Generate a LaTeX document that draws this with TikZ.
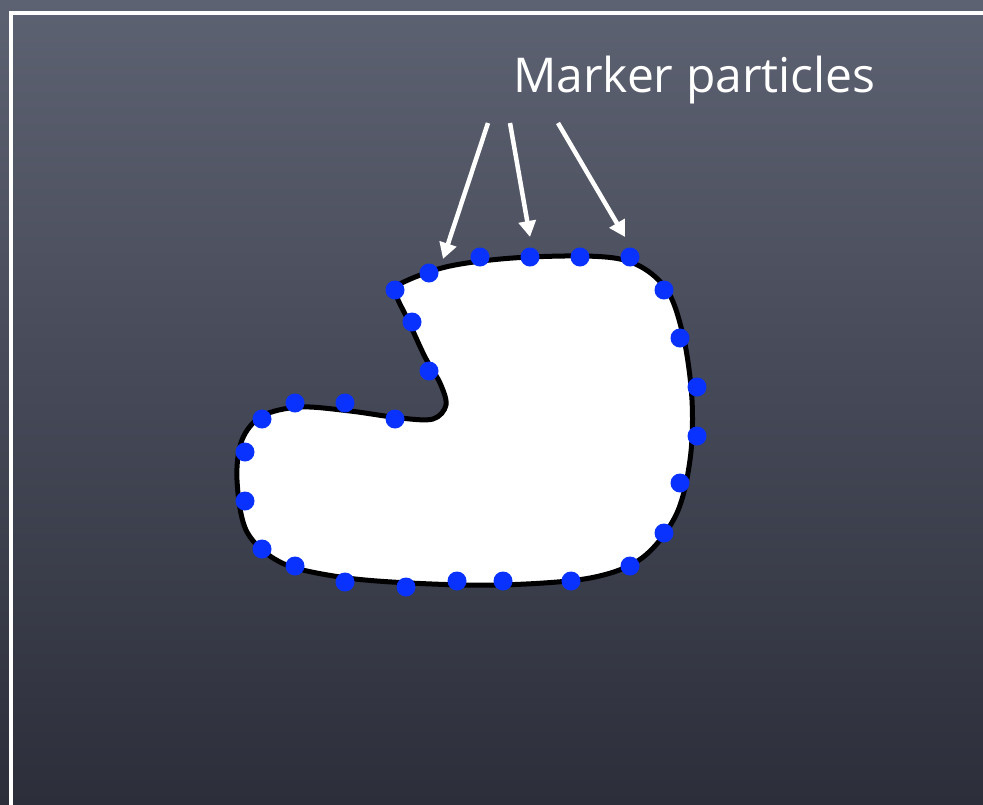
\documentclass[tikz,border=0pt]{standalone}
\usepackage{fontspec}
\setmainfont{Open Sans}
\usetikzlibrary{arrows.meta}
\definecolor{bgtop}{RGB}{93,98,114}
\definecolor{bgbot}{RGB}{44,46,58}
\definecolor{dotblue}{RGB}{10,50,255}
\tikzset{
  pdot/.style={circle,fill=dotblue,inner sep=0pt,minimum size=19pt},
  pointer/.style={draw=white,line width=4.5pt,-{Triangle[length=16pt,width=17pt]}},
  blob/.style={draw=black,fill=white,line width=5pt},
  frameline/.style={draw=white,line width=4.5pt}
}
\begin{document}
\begin{tikzpicture}[x=1pt,y=-1pt]
\useasboundingbox (0,0) rectangle (983,804);
\shade[top color=bgtop,bottom color=bgbot] (0,0) rectangle (983,804);
\draw[frameline] (11,810) -- (11,13) -- (990,13);
\path[blob] plot[smooth cycle,tension=0.55] coordinates {
(398,285) (450,266) (530,257) (620,259) (664,286) (683,335) (692,400)
(690,460) (676,515) (642,558) (590,578) (500,585) (410,583) (340,577)
(282,563) (247,532) (237,480) (242,440) (262,416) (300,407) (350,411)
(400,418) (433,419) (446,405) (440,383) (425,357) (408,320) (397,297)};
\foreach \n/\x/\y in {d1/429/273,d2/480/257,d3/530/257,d4/580/257,d5/630/257,
 d6/664/290,d7/680/338,d8/697/387,d9/697/436,d10/680/483,d11/664/533,d12/630/566,
 d13/571/581,d14/503/581,d15/457/581,d16/406/587,d17/345/582,d18/295/566,d19/262/549,
 d20/245/501,d21/245/452,d22/262/419,d23/295/403,d24/345/403,d25/395/419,d26/429/371,
 d27/412/322,d28/395/290}
 \node[pdot] (\n) at (\x,\y) {};
\node[anchor=base west,text=white,font=\fontsize{48}{54}\selectfont,inner sep=0pt] (lbl) at (513,92) {Marker particles};
\coordinate (s1) at (488,123);
\coordinate (s2) at (510,123);
\coordinate (s3) at (558,123);
\coordinate (t1) at (443,259);
\coordinate (t2) at (530,237);
\coordinate (t3) at (625,237);
\draw[pointer] (s1) -- (t1);
\draw[pointer] (s2) -- (t2);
\draw[pointer] (s3) -- (t3);
\end{tikzpicture}
\end{document}
